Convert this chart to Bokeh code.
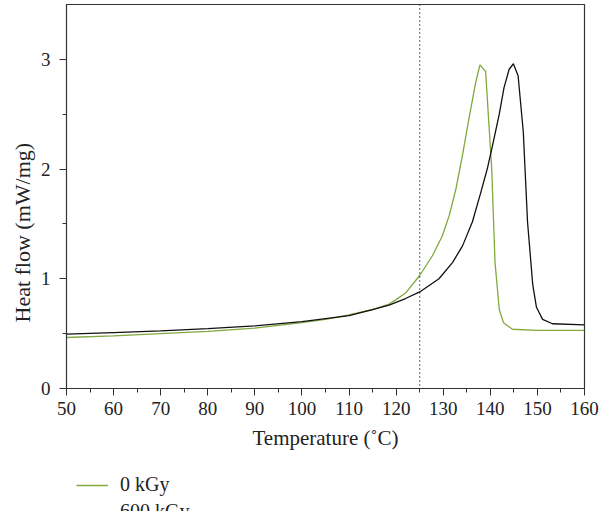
from bokeh.plotting import figure
from bokeh.layouts import column
from bokeh.models import Range1d, Span, Legend, LegendItem, FixedTicker, Title
from bokeh.embed import file_html
from bokeh.resources import INLINE

temp_0 = [50, 60, 70, 80, 90, 100, 105, 110, 115, 118.5, 120, 122, 125, 127.7, 129.8, 131.3,
          132.7, 134.1, 135.5, 136.9, 137.8, 139.0, 140.3, 141.0, 141.9, 142.8, 144.7, 150, 160]
flow_0 = [0.465, 0.48, 0.50, 0.52, 0.55, 0.60, 0.63, 0.67, 0.72, 0.77, 0.81, 0.87, 1.03, 1.21, 1.39, 1.58,
          1.82, 2.13, 2.47, 2.79, 2.95, 2.89, 2.0, 1.15, 0.72, 0.60, 0.54, 0.53, 0.53]

temp_600 = [50, 60, 70, 80, 90, 100, 110, 115, 118.5, 122, 125, 129.1, 132, 134.1, 136.2, 138,
            139.4, 140.5, 141.9, 142.9, 144, 144.9, 145.9, 147, 147.9, 149, 149.8, 151.1, 153.2, 160]
flow_600 = [0.495, 0.51, 0.525, 0.545, 0.57, 0.61, 0.665, 0.72, 0.76, 0.82, 0.88, 1.0, 1.15, 1.30, 1.52, 1.79,
            2.01, 2.22, 2.50, 2.74, 2.91, 2.96, 2.85, 2.34, 1.52, 0.95, 0.74, 0.63, 0.59, 0.58]

x_ticks = [50, 60, 70, 80, 90, 100, 110, 120, 130, 140, 150, 160]
y_ticks = [0, 1, 2, 3]
marker_temp = 125
series_labels = ["0 kGy", "600 kGy"]

FONT = "Liberation Serif"
GREEN = "#80a83c"
BLACK = "#111111"

p = figure(width=600, height=459, output_backend="svg", toolbar_location=None,
           x_range=Range1d(50, 160), y_range=Range1d(0, 3.5),
           min_border_left=66, min_border_right=16, min_border_top=4,
           min_border_bottom=71)

r0 = p.line(temp_0, flow_0, line_color=GREEN, line_width=1.3)
r1 = p.line(temp_600, flow_600, line_color=BLACK, line_width=1.3)

p.add_layout(Span(location=marker_temp, dimension="height", line_color="black",
                  line_dash="1 3", line_width=1.2))

p.grid.visible = False
p.outline_line_color = "#333333"
p.outline_line_width = 1.2

p.xaxis.ticker = FixedTicker(ticks=x_ticks, minor_ticks=list(range(50, 161, 5)))
p.yaxis.ticker = FixedTicker(ticks=y_ticks, minor_ticks=[0.5, 1.5, 2.5])
for ax in (p.xaxis, p.yaxis):
    ax.axis_line_color = "#333333"
    ax.major_tick_line_color = "#333333"
    ax.minor_tick_line_color = "#333333"
    ax.major_tick_out = 7
    ax.major_tick_in = 0
    ax.minor_tick_out = 4
    ax.minor_tick_in = 0
    ax.major_label_text_font = FONT
    ax.major_label_text_font_size = "19px"
    ax.major_label_text_color = "#222222"
    ax.axis_label_text_font = FONT
    ax.axis_label_text_font_size = "21px"
    ax.axis_label_text_font_style = "normal"
    ax.axis_label_text_color = "#222222"

p.xaxis.axis_label = "Temperature (˚C)"
p.yaxis.major_label_orientation = "horizontal"
p.xaxis.major_label_standoff = 6
p.yaxis.major_label_standoff = 9
p.xaxis.axis_label_standoff = 8

ytitle = Title(text="Heat flow (mW/mg)", align="left", offset=66, standoff=6,
               text_font=FONT, text_font_size="22px", text_font_style="normal",
               text_color="#222222")
p.add_layout(ytitle, "left")

# legend panel below the chart
lg = figure(width=600, height=52, output_backend="svg", toolbar_location=None,
            x_range=Range1d(0, 1), y_range=Range1d(0, 1),
            x_axis_location=None, y_axis_location=None,
            min_border_left=0, min_border_right=0, min_border_top=0, min_border_bottom=0)
lg.frame_align = False
lg.grid.visible = False
lg.outline_line_color = None
nan = float("nan")
d0 = lg.line([nan], [nan], line_color=GREEN, line_width=1.3)
d1 = lg.line([nan], [nan], line_color=BLACK, line_width=1.3)

legend = Legend(items=[LegendItem(label=series_labels[0], renderers=[d0]),
                       LegendItem(label=series_labels[1], renderers=[d1])],
                orientation="vertical", location=(76, -12))
legend.label_text_font = FONT
legend.label_text_font_size = "20px"
legend.label_text_color = "#222222"
legend.border_line_color = None
legend.background_fill_alpha = 0
legend.glyph_width = 32
legend.glyph_height = 20
legend.label_height = 20
legend.spacing = 4
legend.padding = 0
legend.margin = 0
legend.label_standoff = 12
lg.add_layout(legend)

layout = column(p, lg, spacing=0)
open("out.html", "w").write(file_html(layout, INLINE))
